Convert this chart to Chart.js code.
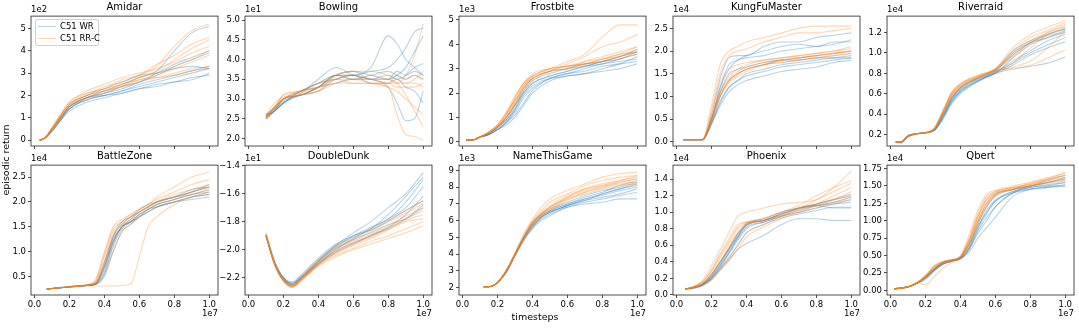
<!DOCTYPE html>
<html><head><meta charset="utf-8">
<script src="https://cdn.jsdelivr.net/npm/chart.js@4.4.0/dist/chart.umd.min.js"></script>
<style>
body{margin:0;background:#fff;width:1079px;height:328px;overflow:hidden;position:relative;font-family:"DejaVu Sans",sans-serif;}
.p{position:absolute}
.t{position:absolute;color:#000;white-space:nowrap;font-family:"DejaVu Sans",sans-serif;}
</style></head><body>
<script>
// ---------- DATA (x in units of 1e7 timesteps; y in the units shown with each panel's offset label) ----------
const games = ['Amidar','Bowling','Frostbite','KungFuMaster','Riverraid','BattleZone','DoubleDunk','NameThisGame','Phoenix','Qbert'];
const offsetLabels = ['1e2','1e1','1e3','1e4','1e4','1e4','1e1','1e3','1e4','1e4'];
const xTickLabels = ['0.0','0.2','0.4','0.6','0.8','1.0'];
const seriesNames = ['C51 WR','C51 RR-C'];

const x_Amidar = [0.03,0.06,0.1,0.15,0.2,0.3,0.4,0.5,0.6,0.7,0.8,0.9,1.0];
const wr_Amidar = [
 [0,0.1,0.5,1.0,1.4,1.9,2.2,2.5,2.8,3.1,4.0,4.8,5.1],
 [0,0.1,0.5,1.0,1.5,1.9,2.1,2.4,2.6,3.0,3.4,3.7,4.0],
 [0,0.1,0.4,0.9,1.4,1.8,2.0,2.2,2.4,2.6,2.8,3.0,3.2],
 [0,0.1,0.5,1.0,1.5,1.9,2.0,2.1,2.3,2.5,2.6,2.8,2.9],
 [0,0.1,0.4,0.9,1.3,1.7,1.9,2.1,2.3,2.4,2.6,2.7,3.0],
 [0,0.1,0.5,1.1,1.6,2.0,2.3,2.6,2.9,3.0,3.2,3.3,3.2],
 [0,0.1,0.4,0.9,1.4,1.8,2.0,2.2,2.5,2.7,2.9,3.1,3.3],
 [0,0.1,0.5,1.0,1.5,1.9,2.1,2.3,2.6,2.9,3.3,3.6,3.9]];
const rr_Amidar = [
 [0,0.1,0.5,1.1,1.6,2.1,2.3,2.7,2.9,3.3,4.2,4.9,5.2],
 [0,0.1,0.5,1.0,1.6,2.0,2.4,2.6,2.9,3.4,3.8,4.3,4.6],
 [0,0.1,0.5,1.1,1.7,2.1,2.3,2.5,2.8,3.1,3.6,4.1,4.5],
 [0,0.1,0.6,1.2,1.7,2.2,2.5,2.8,3.0,3.2,3.5,3.9,4.2],
 [0,0.1,0.5,1.0,1.5,1.9,2.2,2.4,2.7,2.9,3.2,3.5,3.8],
 [0,0.1,0.4,1.0,1.5,2.0,2.2,2.5,2.7,2.8,3.0,3.2,3.3],
 [0,0.1,0.5,1.1,1.6,2.0,2.2,2.4,2.6,2.8,2.9,3.1,3.2],
 [0,0.1,0.5,1.0,1.5,1.8,2.1,2.4,2.8,3.0,3.3,3.6,4.0]];

const x_Bowling = [0.1,0.15,0.2,0.3,0.4,0.5,0.6,0.7,0.8,0.85,0.9,0.95,1.0];
const wr_Bowling = [
 [2.55,2.75,2.95,3.1,3.3,3.6,3.6,3.8,4.6,4.4,4.0,3.8,3.6],
 [2.6,2.7,2.9,3.15,3.5,3.8,3.6,3.5,3.3,2.9,2.45,2.5,3.2],
 [2.55,2.7,3.0,3.1,3.3,3.6,3.6,3.7,3.8,4.0,4.3,4.7,4.8],
 [2.5,2.7,2.9,3.2,3.4,3.5,3.6,3.5,3.5,3.6,3.8,4.2,4.6],
 [2.6,2.8,3.0,3.2,3.3,3.4,3.5,3.5,3.6,3.5,3.6,3.8,3.9],
 [2.55,2.7,2.9,3.1,3.2,3.5,3.6,3.4,3.4,3.5,3.3,3.2,2.9],
 [2.6,2.75,3.0,3.1,3.3,3.6,3.7,3.6,3.5,3.7,3.6,3.7,3.6],
 [2.5,2.7,2.9,3.2,3.4,3.6,3.5,3.6,3.7,3.6,3.5,3.6,3.5]];
const rr_Bowling = [
 [2.5,2.8,3.0,3.1,3.3,3.5,3.4,3.4,3.3,2.6,2.1,2.05,1.95],
 [2.55,2.8,3.1,3.2,3.4,3.5,3.5,3.6,3.5,3.4,3.1,2.7,2.3],
 [2.6,2.8,3.0,3.2,3.3,3.5,3.6,3.5,3.4,3.4,3.6,4.1,4.9],
 [2.5,2.75,3.0,3.1,3.2,3.6,3.7,3.7,3.6,3.5,3.4,3.5,3.7],
 [2.55,2.8,3.0,3.2,3.3,3.4,3.4,3.4,3.4,3.3,3.3,3.3,3.4],
 [2.6,2.9,3.05,3.15,3.3,3.6,3.7,3.5,3.5,3.4,3.4,3.4,3.3],
 [2.5,2.7,3.0,3.1,3.2,3.4,3.5,3.4,3.3,3.2,3.0,2.8,2.6],
 [2.55,2.8,3.1,3.2,3.4,3.6,3.5,3.5,3.4,3.6,3.5,3.6,3.5]];

const x_Frostbite = [0.02,0.07,0.1,0.15,0.2,0.25,0.3,0.35,0.4,0.5,0.6,0.7,0.8,0.9,1.0];
const wr_Frostbite = [
 [0.07,0.1,0.2,0.35,0.6,1.0,1.5,2.0,2.4,2.7,2.9,3.1,3.3,3.5,3.7],
 [0.07,0.1,0.2,0.3,0.5,0.8,1.2,1.8,2.2,2.6,2.8,2.9,3.1,3.2,3.3],
 [0.07,0.1,0.2,0.3,0.5,0.7,1.0,1.5,2.0,2.5,2.7,2.8,3.0,3.2,3.5],
 [0.07,0.1,0.2,0.35,0.6,0.9,1.4,2.1,2.5,2.8,3.0,3.1,3.2,3.4,3.6],
 [0.07,0.1,0.2,0.3,0.5,0.8,1.3,1.9,2.3,2.6,2.7,2.8,2.9,3.0,3.2],
 [0.07,0.1,0.2,0.35,0.6,1.0,1.5,2.2,2.6,2.9,3.0,3.2,3.3,3.4,3.7],
 [0.07,0.1,0.2,0.3,0.5,0.8,1.1,1.6,2.1,2.6,2.8,3.0,3.2,3.3,3.4],
 [0.07,0.1,0.2,0.3,0.6,0.9,1.3,2.0,2.4,2.7,2.9,3.1,3.3,3.5,3.8]];
const rr_Frostbite = [
 [0.07,0.1,0.2,0.4,0.7,1.2,1.9,2.4,2.7,3.0,3.3,3.6,4.3,4.8,4.8],
 [0.07,0.1,0.2,0.4,0.6,1.0,1.6,2.3,2.6,2.9,3.2,3.5,3.9,4.1,4.4],
 [0.07,0.1,0.2,0.35,0.6,1.1,1.8,2.4,2.7,3.0,3.1,3.3,3.4,3.6,3.9],
 [0.07,0.1,0.2,0.4,0.7,1.2,1.7,2.2,2.6,2.9,3.1,3.2,3.3,3.5,3.7],
 [0.07,0.1,0.2,0.35,0.6,0.9,1.5,2.1,2.5,2.9,3.0,3.2,3.4,3.5,3.8],
 [0.07,0.1,0.2,0.4,0.7,1.1,1.7,2.3,2.7,3.0,3.1,3.2,3.3,3.4,3.6],
 [0.07,0.1,0.2,0.35,0.6,1.0,1.6,2.2,2.6,2.9,3.0,3.3,3.5,3.7,3.9],
 [0.07,0.1,0.2,0.4,0.65,1.1,1.8,2.4,2.8,3.0,3.1,3.2,3.4,3.6,3.7]];

const x_KungFuMaster = [0.04,0.1,0.15,0.2,0.25,0.3,0.35,0.4,0.5,0.6,0.7,0.8,0.9,1.0];
const wr_KungFuMaster = [
 [0.05,0.05,0.05,0.6,1.4,1.85,1.9,1.9,2.1,2.2,2.2,2.3,2.35,2.4],
 [0.05,0.05,0.05,0.5,1.2,1.7,1.8,1.9,2.0,2.1,2.15,2.1,2.2,2.2],
 [0.05,0.05,0.05,0.4,0.9,1.2,1.35,1.5,1.6,1.7,1.75,1.8,1.85,1.9],
 [0.05,0.05,0.05,0.4,0.8,1.1,1.25,1.35,1.45,1.55,1.6,1.65,1.75,1.8],
 [0.05,0.05,0.05,0.45,1.0,1.35,1.5,1.6,1.7,1.8,1.85,1.9,1.95,2.0],
 [0.05,0.05,0.05,0.5,1.1,1.5,1.6,1.65,1.75,1.8,1.8,1.85,1.85,1.85],
 [0.05,0.05,0.05,0.4,0.85,1.2,1.35,1.45,1.55,1.65,1.7,1.75,1.8,1.85],
 [0.05,0.05,0.05,0.5,1.2,1.6,1.8,1.85,1.9,2.0,2.05,2.1,2.15,2.25]];
const rr_KungFuMaster = [
 [0.05,0.05,0.06,0.8,1.7,2.0,2.1,2.2,2.3,2.4,2.5,2.55,2.55,2.55],
 [0.05,0.05,0.06,0.7,1.5,1.9,2.0,2.05,2.2,2.3,2.4,2.4,2.45,2.5],
 [0.05,0.05,0.05,0.5,1.1,1.4,1.55,1.65,1.75,1.8,1.85,1.9,1.95,2.0],
 [0.05,0.05,0.05,0.45,1.0,1.35,1.5,1.6,1.7,1.75,1.8,1.85,1.9,1.95],
 [0.05,0.05,0.05,0.5,1.1,1.45,1.6,1.7,1.8,1.85,1.9,1.95,2.0,2.1],
 [0.05,0.05,0.05,0.45,1.0,1.3,1.45,1.55,1.7,1.75,1.8,1.85,1.9,1.95],
 [0.05,0.05,0.06,0.6,1.3,1.6,1.7,1.75,1.8,1.85,1.9,1.95,2.0,2.05],
 [0.05,0.05,0.05,0.5,1.05,1.35,1.5,1.6,1.7,1.8,1.85,1.9,1.95,2.0]];

const x_Riverraid = [0.03,0.06,0.1,0.15,0.2,0.25,0.3,0.35,0.4,0.5,0.6,0.7,0.8,0.9,1.0];
const wr_Riverraid = [
 [0.13,0.13,0.19,0.21,0.22,0.25,0.38,0.52,0.62,0.72,0.8,0.84,0.87,0.9,0.96],
 [0.13,0.12,0.18,0.21,0.22,0.24,0.35,0.5,0.6,0.72,0.8,0.88,0.98,1.05,1.11],
 [0.13,0.13,0.19,0.21,0.22,0.25,0.4,0.56,0.65,0.75,0.82,1.0,1.1,1.15,1.2],
 [0.13,0.13,0.18,0.21,0.22,0.25,0.38,0.54,0.64,0.74,0.8,0.95,1.08,1.15,1.22],
 [0.13,0.13,0.19,0.21,0.22,0.24,0.36,0.52,0.62,0.73,0.81,0.92,1.02,1.12,1.18],
 [0.13,0.13,0.19,0.21,0.22,0.25,0.39,0.55,0.66,0.75,0.83,0.98,1.1,1.18,1.24],
 [0.13,0.12,0.18,0.21,0.22,0.24,0.37,0.53,0.63,0.73,0.81,0.9,1.0,1.08,1.15],
 [0.13,0.13,0.19,0.21,0.22,0.25,0.4,0.56,0.66,0.76,0.84,1.02,1.12,1.18,1.23]];
const rr_Riverraid = [
 [0.13,0.13,0.19,0.21,0.22,0.26,0.42,0.6,0.68,0.76,0.83,0.85,0.88,0.95,1.03],
 [0.13,0.13,0.19,0.21,0.22,0.26,0.43,0.6,0.69,0.77,0.84,1.02,1.15,1.22,1.3],
 [0.13,0.13,0.19,0.21,0.22,0.26,0.44,0.62,0.7,0.78,0.85,1.05,1.18,1.25,1.32],
 [0.13,0.13,0.19,0.21,0.22,0.25,0.4,0.58,0.67,0.76,0.83,0.98,1.1,1.2,1.28],
 [0.13,0.13,0.19,0.21,0.22,0.26,0.42,0.6,0.69,0.77,0.82,0.9,1.05,1.18,1.25],
 [0.13,0.13,0.19,0.21,0.22,0.25,0.41,0.58,0.67,0.76,0.83,0.96,1.1,1.17,1.2],
 [0.13,0.13,0.19,0.21,0.22,0.26,0.43,0.61,0.7,0.78,0.84,1.0,1.12,1.2,1.26],
 [0.13,0.13,0.19,0.21,0.22,0.25,0.4,0.57,0.66,0.75,0.82,0.86,0.92,1.05,1.22]];

const x_BattleZone = [0.07,0.1,0.2,0.3,0.35,0.4,0.45,0.5,0.55,0.6,0.65,0.7,0.8,0.9,1.0];
const wr_BattleZone = [
 [0.25,0.26,0.29,0.32,0.36,0.7,1.25,1.5,1.6,1.75,1.85,1.95,2.05,2.15,2.2],
 [0.25,0.26,0.29,0.32,0.34,0.5,1.0,1.4,1.55,1.7,1.8,1.9,2.0,2.1,2.15],
 [0.25,0.26,0.3,0.33,0.38,0.8,1.3,1.55,1.7,1.8,1.9,2.0,2.1,2.2,2.3],
 [0.25,0.26,0.29,0.32,0.35,0.6,1.15,1.5,1.6,1.7,1.8,1.9,2.0,2.05,2.1],
 [0.25,0.26,0.29,0.32,0.35,0.65,1.2,1.5,1.65,1.8,1.9,2.0,2.1,2.2,2.35],
 [0.25,0.26,0.3,0.33,0.36,0.75,1.3,1.6,1.7,1.85,1.95,2.0,2.1,2.25,2.3],
 [0.25,0.26,0.29,0.32,0.34,0.55,1.1,1.45,1.6,1.75,1.85,1.95,2.05,2.15,2.25],
 [0.25,0.26,0.29,0.32,0.35,0.7,1.2,1.5,1.6,1.7,1.85,1.9,2.0,2.1,2.15]];
const rr_BattleZone = [
 [0.25,0.26,0.29,0.31,0.31,0.31,0.31,0.32,0.35,0.9,1.5,1.7,1.95,2.1,2.2],
 [0.25,0.26,0.3,0.34,0.45,1.0,1.5,1.65,1.75,1.85,1.95,2.1,2.3,2.5,2.6],
 [0.25,0.26,0.3,0.33,0.4,0.9,1.4,1.6,1.75,1.85,1.95,2.05,2.2,2.35,2.45],
 [0.25,0.26,0.29,0.32,0.36,0.7,1.2,1.5,1.65,1.8,1.9,2.0,2.1,2.2,2.3],
 [0.25,0.26,0.3,0.33,0.38,0.8,1.35,1.55,1.7,1.8,1.9,2.0,2.15,2.25,2.35],
 [0.25,0.26,0.29,0.32,0.35,0.55,1.0,1.4,1.55,1.7,1.8,1.9,2.0,2.1,2.2],
 [0.25,0.26,0.3,0.33,0.42,0.95,1.45,1.6,1.7,1.8,1.9,2.0,2.1,2.15,2.25],
 [0.25,0.26,0.29,0.32,0.36,0.75,1.25,1.5,1.6,1.75,1.85,1.95,2.05,2.2,2.3]];

const x_DoubleDunk = [0.1,0.15,0.2,0.25,0.3,0.4,0.5,0.6,0.7,0.8,0.9,1.0];
const wr_DoubleDunk = [
 [-1.9,-2.1,-2.2,-2.25,-2.2,-2.08,-1.97,-1.88,-1.8,-1.7,-1.6,-1.45],
 [-1.9,-2.1,-2.21,-2.24,-2.2,-2.1,-2.0,-1.92,-1.85,-1.75,-1.62,-1.48],
 [-1.88,-2.08,-2.2,-2.23,-2.18,-2.06,-1.96,-1.9,-1.84,-1.78,-1.66,-1.5],
 [-1.9,-2.1,-2.21,-2.25,-2.2,-2.1,-2.01,-1.95,-1.9,-1.84,-1.75,-1.62],
 [-1.9,-2.11,-2.22,-2.26,-2.21,-2.09,-1.99,-1.93,-1.88,-1.82,-1.78,-1.7],
 [-1.89,-2.09,-2.2,-2.24,-2.2,-2.08,-1.98,-1.9,-1.86,-1.79,-1.72,-1.65],
 [-1.9,-2.1,-2.22,-2.26,-2.22,-2.11,-2.02,-1.96,-1.9,-1.85,-1.78,-1.68],
 [-1.9,-2.1,-2.21,-2.24,-2.19,-2.07,-1.97,-1.91,-1.85,-1.78,-1.7,-1.55]];
const rr_DoubleDunk = [
 [-1.9,-2.11,-2.22,-2.27,-2.22,-2.12,-2.05,-2.0,-1.96,-1.92,-1.88,-1.83],
 [-1.9,-2.1,-2.22,-2.26,-2.21,-2.1,-2.03,-1.97,-1.92,-1.86,-1.8,-1.78],
 [-1.9,-2.1,-2.21,-2.25,-2.2,-2.08,-1.99,-1.93,-1.87,-1.8,-1.72,-1.65],
 [-1.9,-2.11,-2.23,-2.27,-2.22,-2.1,-2.0,-1.94,-1.89,-1.83,-1.76,-1.7],
 [-1.89,-2.1,-2.22,-2.26,-2.21,-2.09,-2.01,-1.95,-1.9,-1.84,-1.78,-1.72],
 [-1.9,-2.11,-2.22,-2.26,-2.22,-2.11,-2.04,-1.99,-1.94,-1.9,-1.85,-1.8],
 [-1.9,-2.1,-2.21,-2.25,-2.2,-2.08,-1.98,-1.92,-1.86,-1.8,-1.74,-1.67],
 [-1.9,-2.1,-2.22,-2.26,-2.21,-2.1,-2.02,-1.96,-1.91,-1.85,-1.79,-1.75]];

const x_NameThisGame = [0.12,0.15,0.2,0.25,0.3,0.35,0.4,0.45,0.5,0.6,0.7,0.8,0.9,1.0];
const wr_NameThisGame = [
 [2.05,2.05,2.3,2.9,3.9,4.9,5.6,6.1,6.4,6.8,7.0,7.1,7.3,7.3],
 [2.05,2.05,2.3,3.0,4.0,5.0,5.8,6.3,6.6,7.0,7.3,7.5,7.8,8.0],
 [2.05,2.05,2.3,3.0,4.0,5.0,5.7,6.2,6.5,6.9,7.2,7.4,7.6,7.9],
 [2.05,2.05,2.3,2.9,3.9,4.9,5.6,6.2,6.5,6.9,7.2,7.6,7.9,8.2],
 [2.05,2.05,2.3,3.0,4.0,5.0,5.9,6.4,6.7,7.1,7.5,7.8,8.0,8.3],
 [2.05,2.05,2.3,2.9,3.9,4.8,5.5,6.0,6.3,6.8,7.1,7.3,7.5,7.7],
 [2.05,2.05,2.3,3.0,4.0,5.0,5.8,6.3,6.6,7.0,7.4,7.7,8.1,8.4],
 [2.05,2.05,2.3,2.95,3.95,4.9,5.7,6.2,6.5,6.9,7.3,7.6,7.9,8.1]];
const rr_NameThisGame = [
 [2.05,2.05,2.3,3.0,4.1,5.2,6.1,6.8,7.3,7.8,8.2,8.6,8.8,8.9],
 [2.05,2.05,2.3,3.0,4.0,5.1,6.0,6.6,7.1,7.6,8.1,8.4,8.6,8.7],
 [2.05,2.05,2.3,3.0,4.0,5.0,5.8,6.4,6.8,7.4,7.9,8.2,8.4,8.6],
 [2.05,2.05,2.3,3.0,4.0,5.0,5.8,6.3,6.7,7.3,7.7,8.0,8.2,8.3],
 [2.05,2.05,2.3,3.0,4.0,5.0,5.9,6.5,6.9,7.5,7.9,8.1,8.3,8.5],
 [2.05,2.05,2.3,2.95,3.9,4.8,5.6,6.2,6.6,7.2,7.7,8.0,8.3,8.5],
 [2.05,2.05,2.3,3.0,4.0,5.0,5.9,6.4,6.8,7.4,7.8,8.1,8.4,8.7],
 [2.05,2.05,2.3,3.0,4.0,5.0,5.8,6.4,6.8,7.3,7.6,7.9,8.1,8.2]];

const x_Phoenix = [0.05,0.1,0.15,0.2,0.25,0.3,0.35,0.4,0.5,0.6,0.7,0.8,0.9,1.0];
const wr_Phoenix = [
 [0.07,0.09,0.13,0.25,0.4,0.55,0.7,0.85,0.9,0.98,1.05,1.1,1.15,1.2],
 [0.07,0.09,0.12,0.2,0.35,0.5,0.68,0.82,0.88,0.95,1.0,1.05,1.1,1.15],
 [0.07,0.08,0.11,0.18,0.3,0.42,0.55,0.62,0.72,0.85,0.92,0.92,0.9,0.9],
 [0.07,0.09,0.13,0.22,0.38,0.55,0.72,0.84,0.9,0.98,1.05,1.08,1.05,1.05],
 [0.07,0.09,0.12,0.2,0.33,0.5,0.66,0.8,0.88,0.95,1.02,1.08,1.12,1.18],
 [0.07,0.09,0.13,0.24,0.4,0.56,0.74,0.86,0.92,1.0,1.05,1.08,1.1,1.12],
 [0.07,0.08,0.12,0.2,0.32,0.45,0.6,0.75,0.85,0.93,0.98,1.02,1.06,1.06],
 [0.07,0.09,0.13,0.22,0.36,0.52,0.7,0.84,0.9,0.97,1.04,1.1,1.16,1.22]];
const rr_Phoenix = [
 [0.07,0.1,0.18,0.35,0.55,0.75,0.95,1.0,1.05,1.1,1.12,1.15,1.3,1.5],
 [0.07,0.1,0.16,0.3,0.48,0.65,0.82,0.88,0.92,1.0,1.08,1.2,1.3,1.38],
 [0.07,0.09,0.14,0.25,0.4,0.58,0.75,0.86,0.9,0.98,1.05,1.15,1.25,1.35],
 [0.07,0.09,0.13,0.2,0.32,0.45,0.6,0.75,0.85,0.95,1.05,1.1,1.15,1.2],
 [0.07,0.1,0.15,0.28,0.45,0.62,0.8,0.87,0.9,0.95,1.0,1.05,1.12,1.18],
 [0.07,0.09,0.12,0.18,0.3,0.42,0.55,0.7,0.82,0.92,1.0,1.08,1.15,1.25],
 [0.07,0.1,0.16,0.3,0.5,0.68,0.85,0.88,0.93,1.0,1.05,1.1,1.2,1.3],
 [0.07,0.09,0.14,0.24,0.4,0.56,0.74,0.85,0.9,0.96,1.03,1.08,1.12,1.15]];

const x_Qbert = [0.02,0.1,0.15,0.2,0.25,0.3,0.35,0.4,0.45,0.5,0.55,0.6,0.7,0.8,0.9,1.0];
const wr_Qbert = [
 [0.02,0.05,0.1,0.18,0.3,0.4,0.43,0.45,0.6,0.85,1.05,1.2,1.4,1.48,1.5,1.5],
 [0.02,0.05,0.1,0.2,0.3,0.38,0.42,0.46,0.55,0.75,0.9,1.05,1.35,1.45,1.5,1.55],
 [0.02,0.05,0.1,0.15,0.28,0.38,0.42,0.47,0.65,0.95,1.2,1.35,1.45,1.5,1.55,1.6],
 [0.02,0.05,0.1,0.18,0.3,0.4,0.44,0.46,0.62,0.9,1.15,1.3,1.42,1.48,1.52,1.55],
 [0.02,0.05,0.1,0.2,0.32,0.4,0.43,0.48,0.7,1.0,1.25,1.38,1.45,1.5,1.58,1.65],
 [0.02,0.05,0.1,0.17,0.28,0.37,0.42,0.45,0.58,0.82,1.0,1.2,1.4,1.46,1.48,1.5],
 [0.02,0.05,0.1,0.19,0.3,0.39,0.43,0.47,0.66,0.92,1.12,1.28,1.42,1.5,1.55,1.62],
 [0.02,0.05,0.1,0.18,0.29,0.38,0.42,0.46,0.6,0.88,1.1,1.28,1.4,1.45,1.48,1.52]];
const rr_Qbert = [
 [0.02,0.05,0.11,0.2,0.35,0.42,0.44,0.48,0.75,1.1,1.35,1.42,1.48,1.52,1.6,1.7],
 [0.02,0.05,0.12,0.08,0.2,0.32,0.4,0.46,0.7,1.05,1.3,1.4,1.45,1.55,1.62,1.68],
 [0.02,0.05,0.1,0.22,0.35,0.4,0.43,0.5,0.8,1.15,1.38,1.44,1.5,1.55,1.6,1.65],
 [0.02,0.05,0.11,0.19,0.32,0.4,0.43,0.47,0.68,1.0,1.25,1.38,1.46,1.52,1.58,1.62],
 [0.02,0.05,0.1,0.2,0.33,0.41,0.44,0.49,0.72,1.05,1.3,1.4,1.47,1.5,1.55,1.58],
 [0.02,0.05,0.1,0.18,0.3,0.39,0.43,0.46,0.62,0.95,1.2,1.36,1.45,1.5,1.56,1.6],
 [0.02,0.05,0.11,0.21,0.34,0.41,0.44,0.48,0.74,1.08,1.32,1.42,1.48,1.53,1.6,1.66],
 [0.02,0.05,0.1,0.19,0.31,0.4,0.43,0.47,0.66,0.98,1.22,1.37,1.45,1.5,1.54,1.57]];

// ---------- AXIS CONFIG ----------
const yMin  = [-0.26, 1.81, -0.17, -0.09, 0.09, 0.13, -2.324, 1.56, -0.002, -0.067];
const yMax  = [5.55, 5.1, 5.16, 2.77, 1.36, 2.74, -1.396, 9.32, 1.57, 1.80];
const yStep = [1, 0.5, 1, 0.5, 0.2, 0.5, 0.2, 1, 0.2, 0.25];
const yDec  = [0, 1, 0, 1, 1, 1, 1, 0, 1, 2];

const xsAll = [x_Amidar,x_Bowling,x_Frostbite,x_KungFuMaster,x_Riverraid,x_BattleZone,x_DoubleDunk,x_NameThisGame,x_Phoenix,x_Qbert];
const wrAll = [wr_Amidar,wr_Bowling,wr_Frostbite,wr_KungFuMaster,wr_Riverraid,wr_BattleZone,wr_DoubleDunk,wr_NameThisGame,wr_Phoenix,wr_Qbert];
const rrAll = [rr_Amidar,rr_Bowling,rr_Frostbite,rr_KungFuMaster,rr_Riverraid,rr_BattleZone,rr_DoubleDunk,rr_NameThisGame,rr_Phoenix,rr_Qbert];

// ---------- LAYOUT / STYLE ----------
const colLeft = [31, 245, 459, 673, 887];
const rowTop = [15, 164];
const plotW = 187, plotH = 131;
const padL = 34, padT = 6, padR = 10, padB = 22;
const BLUE = 'rgba(31,119,180,0.32)';
const ORANGE = 'rgba(255,127,14,0.32)';
const FONT = '"DejaVu Sans", sans-serif';
const TICK_SIZE = 8.5;

Chart.defaults.font.family = FONT;
Chart.defaults.color = '#000';

const framePlugin = {
  id: 'frame',
  afterDraw(chart) {
    const a = chart.chartArea, c = chart.ctx;
    c.save();
    c.strokeStyle = '#222';
    c.lineWidth = 0.8;
    c.strokeRect(a.left, a.top, a.right - a.left, a.bottom - a.top);
    c.restore();
  }
};

function fmt(v, d) {
  return v.toFixed(d).replace('-', '\u2212');
}

function addText(txt, css) {
  const d = document.createElement('div');
  d.className = 't';
  d.textContent = txt;
  Object.assign(d.style, css);
  document.body.appendChild(d);
  return d;
}

games.forEach((g, i) => {
  const row = Math.floor(i / 5), col = i % 5;
  const L = colLeft[col], T = rowTop[row];
  const wrap = document.createElement('div');
  wrap.className = 'p';
  Object.assign(wrap.style, {
    left: (L - padL) + 'px', top: (T - padT) + 'px',
    width: (padL + plotW + padR) + 'px', height: (padT + plotH + padB) + 'px'
  });
  const cv = document.createElement('canvas');
  wrap.appendChild(cv);
  document.body.appendChild(wrap);

  const xs = xsAll[i];
  const mk = (arr, color, name) => arr.map(ys => ({
    label: name,
    data: ys.map((y, k) => ({x: xs[k], y: y})),
    borderColor: color,
    borderWidth: 1.1,
    pointRadius: 0,
    fill: false,
    cubicInterpolationMode: 'monotone'
  }));
  const datasets = mk(rrAll[i], ORANGE, seriesNames[1]).concat(mk(wrAll[i], BLUE, seriesNames[0]));

  new Chart(cv, {
    type: 'line',
    data: { datasets },
    options: {
      responsive: true,
      maintainAspectRatio: false,
      animation: false,
      events: [],
      layout: { padding: { left: 0, top: padT, right: padR, bottom: 0 } },
      plugins: { legend: { display: false }, tooltip: { enabled: false }, title: { display: false } },
      scales: {
        x: {
          type: 'linear', min: -0.02, max: 1.05,
          afterFit: s => { s.height = padB; },
          border: { display: false },
          grid: { drawOnChartArea: false, drawTicks: true, tickLength: 3, color: '#222', lineWidth: 0.8 },
          ticks: {
            stepSize: 0.2, includeBounds: false, autoSkip: false, maxRotation: 0, padding: 2,
            font: { size: TICK_SIZE }, color: '#000',
            callback: (v) => row === 1 ? xTickLabels[Math.round(v / 0.2)] : ''
          }
        },
        y: {
          type: 'linear', min: yMin[i], max: yMax[i],
          afterFit: s => { s.width = padL; },
          border: { display: false },
          grid: { drawOnChartArea: false, drawTicks: true, tickLength: 3, color: '#222', lineWidth: 0.8 },
          ticks: {
            stepSize: yStep[i], includeBounds: false, autoSkip: false, padding: 2,
            font: { size: TICK_SIZE }, color: '#000',
            callback: (v) => fmt(v, yDec[i])
          }
        }
      }
    },
    plugins: [framePlugin]
  });

  // title
  addText(g, { left: L + 'px', width: plotW + 'px', textAlign: 'center', top: (T - 14) + 'px', fontSize: '10px', lineHeight: '12px' });
  // offset label
  addText(offsetLabels[i], { left: L + 'px', top: (T - 11) + 'px', fontSize: '8.5px', lineHeight: '10px' });
  if (row === 1) {
    addText('1e7', { left: (L + plotW - 20) + 'px', width: '20px', textAlign: 'right', top: (T + plotH + 13) + 'px', fontSize: '8.5px', lineHeight: '10px' });
  }
});

// axis labels
addText('timesteps', { left: '435px', width: '200px', textAlign: 'center', top: '311px', fontSize: '9.5px', lineHeight: '12px' });
const yl = addText('episodic return', { left: '-44px', width: '100px', textAlign: 'center', top: '154px', fontSize: '9.5px', lineHeight: '12px' });
yl.style.transform = 'rotate(-90deg)';

// legend (inside Amidar)
const lg = document.createElement('div');
Object.assign(lg.style, { position: 'absolute', left: '35px', top: '19px', width: '62px', height: '25px',
  border: '1px solid rgba(204,204,204,0.9)', borderRadius: '3px', background: 'rgba(255,255,255,0.8)' });
document.body.appendChild(lg);
[[BLUE, seriesNames[0], 26], [ORANGE, seriesNames[1], 38]].forEach(([c, n, y]) => {
  const ln = document.createElement('div');
  Object.assign(ln.style, { position: 'absolute', left: '38px', top: (y - 0.5) + 'px', width: '18px', height: '1.2px', background: c });
  document.body.appendChild(ln);
  addText(n, { left: '60px', top: (y - 5) + 'px', fontSize: '8.5px', lineHeight: '10px' });
});
</script>
</body></html>
